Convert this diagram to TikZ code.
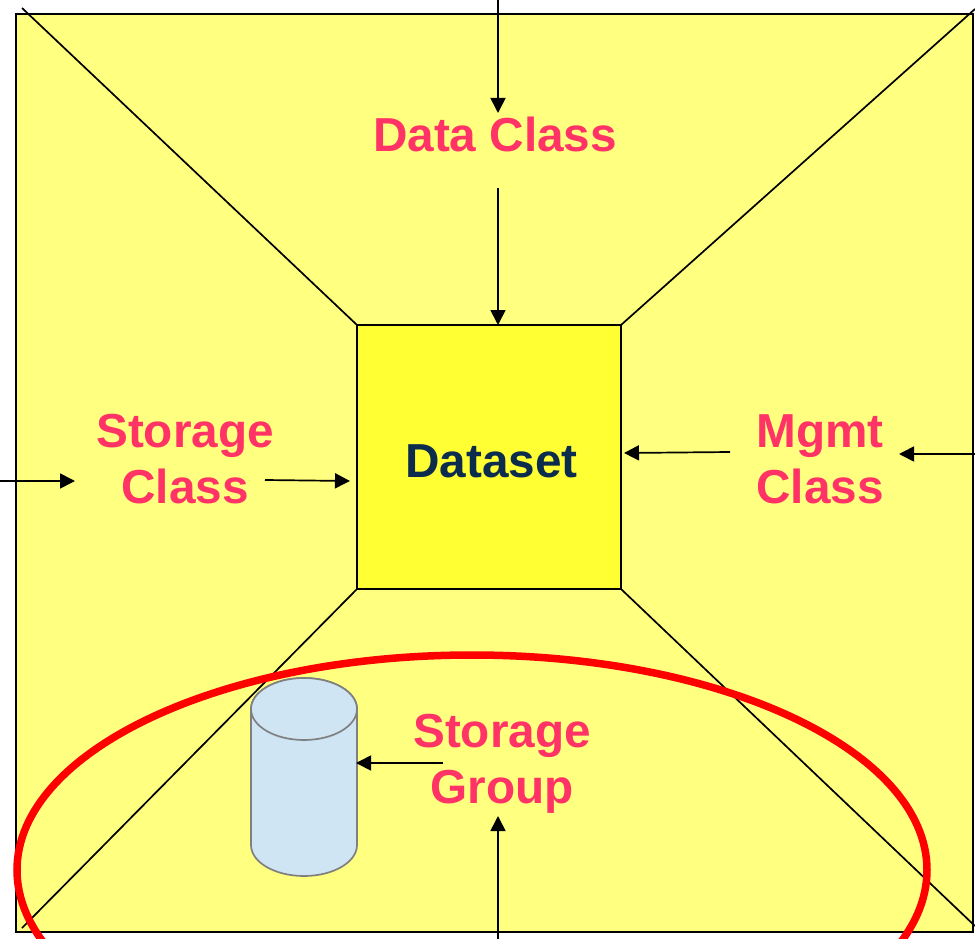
\documentclass[tikz,border=0pt]{standalone}
\usepackage{fontspec}
\setmainfont{Liberation Sans}
\usetikzlibrary{arrows.meta}
\definecolor{framefill}{HTML}{FFFF80}
\definecolor{boxfill}{HTML}{FFFF33}
\definecolor{classpink}{HTML}{FF3366}
\definecolor{boxnavy}{HTML}{0B2C4D}
\definecolor{diskfill}{HTML}{CFE5F4}
\tikzset{
	thinline/.style={line width=1.7pt},
	feed/.style={thinline,-{Triangle[length=15pt,width=15pt]}},
	classlabel/.style={font=\fontsize{47.7}{56}\selectfont\bfseries,text=classpink,align=center,inner sep=0pt},
	disk/.style={draw=black!50,line width=1.7pt,fill=diskfill},
}
\begin{document}
\begin{tikzpicture}[x=1pt,y=-1pt]
	\useasboundingbox (0,0) rectangle (975,939);
	\clip (0,0) rectangle (975,939);
	\draw[thinline,fill=framefill] (16,14) rectangle (973,932);
	\node[draw,thinline,fill=boxfill,minimum width=264pt,minimum height=264pt,outer sep=0pt,inner sep=0pt] (dataset) at (489,457) {};
	\node[font=\fontsize{47.7}{56}\selectfont\bfseries,text=boxnavy,inner sep=0pt] (datasetlabel) at (491.5,461) {Dataset};
	\coordinate (cornernw) at (22,8);
	\coordinate (cornerne) at (975,9);
	\coordinate (cornersw) at (22,928);
	\coordinate (cornerse) at (975,926);
	\foreach \outer/\inner in {cornernw/north west,cornerne/north east,cornersw/south west,cornerse/south east}
		\draw[thinline] (\outer) to (dataset.\inner);
	\node[classlabel] (dataclass) at (495,134) {Data Class};
	\node[classlabel] (storageclass) at (185,459.5) {Storage\\Class};
	\node[classlabel] (mgmtclass) at (820,459) {Mgmt\\Class};
	\node[classlabel] (storagegroup) at (502,764) {Storage\\Group};
	\draw[disk] (251,709) to (251,845) arc (180:0:53 and 31) to (357,709) arc (0:-180:53 and 31) to cycle;
	\draw[disk] (304,709) ellipse (53 and 31);
	\coordinate (dataclasstop) at (498,0);
	\coordinate (dataclasshead) at (498,113);
	\coordinate (dataclasstail) at (498,188);
	\coordinate (datasettop) at (498,325);
	\coordinate (storageleft) at (0,481);
	\coordinate (storagehead) at (75,481);
	\coordinate (storagetail) at (265,480);
	\coordinate (datasetleft) at (350,481);
	\coordinate (mgmttail) at (730,452);
	\coordinate (datasetright) at (624,453);
	\coordinate (mgmtright) at (975,454);
	\coordinate (mgmthead) at (899,454);
	\coordinate (grouptail) at (443,763);
	\coordinate (diskside) at (356,763);
	\coordinate (groupbottom) at (498,939);
	\coordinate (grouphead) at (498,816);
	\foreach \tail/\head in {dataclasstop/dataclasshead,dataclasstail/datasettop,storageleft/storagehead,storagetail/datasetleft,mgmttail/datasetright,mgmtright/mgmthead,grouptail/diskside,groupbottom/grouphead}
		\draw[feed] (\tail) to (\head);
	\draw[red,line width=7.5pt] (472,870) ellipse (455 and 215);
\end{tikzpicture}
\end{document}
